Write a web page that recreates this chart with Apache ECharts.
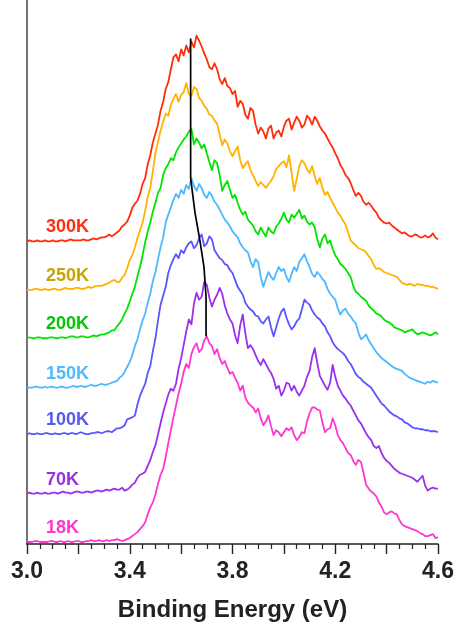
<!DOCTYPE html>
<html>
<head>
<meta charset="utf-8">
<script src="https://cdn.jsdelivr.net/npm/echarts@6/dist/echarts.min.js"></script>
<style>
  html, body { margin: 0; padding: 0; background: #fff; }
  #chart { width: 460px; height: 627px; }
</style>
</head>
<body>
<div id="chart"></div>
<script>
// Photoemission spectra at several temperatures, stacked with vertical offsets
const energy = [
  3.00, 3.01, 3.02, 3.03, 3.04, 3.05, 3.06, 3.07, 3.08, 3.09, 3.10, 3.11, 3.12, 3.13, 3.14, 3.15, 3.16, 3.17, 3.18, 3.19,
  3.20, 3.21, 3.22, 3.23, 3.24, 3.25, 3.26, 3.27, 3.28, 3.29, 3.30, 3.31, 3.32, 3.33, 3.34, 3.35, 3.36, 3.37, 3.38, 3.39,
  3.40, 3.41, 3.42, 3.43, 3.44, 3.45, 3.46, 3.47, 3.48, 3.49, 3.50, 3.51, 3.52, 3.53, 3.54, 3.55, 3.56, 3.57, 3.58, 3.59,
  3.60, 3.61, 3.62, 3.63, 3.64, 3.65, 3.66, 3.67, 3.68, 3.69, 3.70, 3.71, 3.72, 3.73, 3.74, 3.75, 3.76, 3.77, 3.78, 3.79,
  3.80, 3.81, 3.82, 3.83, 3.84, 3.85, 3.86, 3.87, 3.88, 3.89, 3.90, 3.91, 3.92, 3.93, 3.94, 3.95, 3.96, 3.97, 3.98, 3.99,
  4.00, 4.01, 4.02, 4.03, 4.04, 4.05, 4.06, 4.07, 4.08, 4.09, 4.10, 4.11, 4.12, 4.13, 4.14, 4.15, 4.16, 4.17, 4.18, 4.19,
  4.20, 4.21, 4.22, 4.23, 4.24, 4.25, 4.26, 4.27, 4.28, 4.29, 4.30, 4.31, 4.32, 4.33, 4.34, 4.35, 4.36, 4.37, 4.38, 4.39,
  4.40, 4.41, 4.42, 4.43, 4.44, 4.45, 4.46, 4.47, 4.48, 4.49, 4.50, 4.51, 4.52, 4.53, 4.54, 4.55, 4.56, 4.57, 4.58, 4.59,
  4.60
];

const temperatures = ['300K', '250K', '200K', '150K', '100K', '70K', '18K'];
const offsets = [306, 257, 208, 158, 111, 51, 2];

const i300 = [
  0, 1, 0, 0, 1, 0, 0, 1, 0, 0, 1, 0, 0, 1, 1, 0, 1, 2, 1, 1,
  1, 1, 2, 1, 1, 2, 3, 2, 3, 4, 4, 5, 7, 5, 7, 9, 11, 15, 17, 20,
  26, 34, 38, 41, 48, 58, 64, 78, 87, 100, 109, 118, 132, 141, 154, 161, 174, 186, 189, 182,
  194, 188, 198, 191, 202, 196, 208, 203, 197, 190, 184, 176, 174, 180, 174, 164, 159, 165, 157, 155,
  149, 152, 136, 142, 139, 128, 124, 135, 132, 118, 109, 115, 111, 104, 114, 117, 104, 110, 112, 106,
  116, 122, 124, 113, 120, 126, 122, 115, 118, 127, 124, 118, 126, 122, 116, 112, 109, 104, 99, 95,
  89, 84, 77, 73, 67, 64, 59, 52, 46, 49, 46, 40, 37, 39, 36, 32, 29, 24, 21, 19,
  18, 19, 16, 14, 12, 10, 8, 9, 7, 5, 5, 7, 6, 4, 4, 6, 4, 5, 8, 4,
  2
];
const i250 = [
  0, 0, 0, 1, 1, 0, 0, 1, 0, 0, 1, 1, 0, 0, 1, 2, 1, 1, 1, 2,
  2, 1, 1, 2, 3, 2, 3, 4, 4, 4, 5, 6, 7, 9, 10, 8, 8, 12, 15, 22,
  30, 35, 43, 52, 60, 68, 80, 94, 103, 120, 138, 150, 161, 170, 178, 176, 187, 193, 198, 190,
  197, 200, 209, 198, 196, 205, 203, 194, 191, 186, 183, 177, 176, 171, 168, 157, 146, 152, 148, 140,
  135, 140, 145, 131, 123, 127, 130, 121, 116, 110, 105, 109, 106, 103, 107, 110, 115, 122, 125, 128,
  130, 124, 136, 118, 100, 112, 125, 131, 128, 122, 118, 125, 115, 107, 113, 103, 96, 99, 93, 88,
  83, 78, 75, 70, 66, 58, 50, 47, 45, 42, 41, 40, 38, 34, 31, 25, 21, 22, 20, 18,
  17, 16, 15, 14, 13, 10, 7, 6, 5, 6, 5, 4, 6, 5, 5, 4, 4, 3, 3, 2,
  1
];
const i200 = [
  0, 1, 0, 0, 1, 1, 0, 0, 0, 1, 1, 0, 0, 1, 1, 0, 1, 2, 2, 1,
  1, 2, 2, 1, 1, 2, 3, 2, 3, 4, 4, 5, 6, 8, 8, 12, 15, 19, 25, 30,
  37, 45, 52, 63, 72, 84, 97, 108, 117, 128, 137, 147, 152, 165, 172, 176, 182, 180, 188, 193,
  197, 201, 204, 209, 212, 196, 202, 198, 192, 196, 187, 178, 170, 180, 177, 165, 149, 155, 159, 150,
  142, 145, 137, 130, 125, 128, 120, 117, 114, 108, 105, 112, 107, 103, 112, 108, 106, 113, 116, 121,
  127, 120, 117, 125, 122, 126, 130, 121, 124, 118, 115, 117, 112, 100, 92, 101, 105, 96, 99, 90,
  84, 80, 75, 73, 70, 66, 62, 53, 47, 45, 42, 40, 38, 33, 30, 28, 25, 24, 22, 19,
  17, 16, 14, 11, 10, 9, 8, 6, 7, 8, 9, 6, 4, 5, 6, 5, 4, 3, 4, 6,
  4
];
const i150 = [
  0, 0, 0, 1, 1, 0, 0, 1, 0, 1, 1, 0, 0, 1, 1, 0, 0, 1, 2, 1,
  1, 2, 1, 1, 2, 3, 2, 2, 3, 4, 3, 3, 4, 5, 6, 7, 10, 12, 16, 21,
  26, 33, 42, 49, 59, 68, 75, 86, 95, 108, 117, 130, 142, 152, 167, 175, 182, 190, 196, 192,
  200, 196, 205, 201, 212, 204, 199, 206, 202, 195, 192, 198, 194, 188, 185, 180, 175, 170, 167, 163,
  158, 155, 152, 146, 142, 139, 137, 128, 122, 130, 127, 112, 102, 110, 117, 112, 109, 116, 122, 118,
  120, 112, 107, 115, 122, 118, 127, 131, 135, 128, 122, 115, 112, 117, 114, 110, 107, 100, 95, 92,
  89, 80, 74, 78, 80, 75, 72, 68, 65, 56, 49, 51, 54, 48, 44, 40, 36, 33, 30, 28,
  26, 24, 22, 20, 19, 18, 17, 14, 12, 10, 9, 8, 7, 6, 5, 4, 6, 5, 7, 6,
  5
];
const i100 = [
  0, 1, 0, 0, 1, 0, 0, 1, 1, 0, 0, 1, 0, 0, 1, 1, 0, 1, 1, 0,
  1, 2, 1, 0, 0, 1, 1, 2, 2, 1, 2, 3, 3, 2, 4, 6, 6, 7, 9, 15,
  16, 17, 19, 30, 39, 45, 51, 62, 69, 84, 97, 115, 131, 140, 149, 163, 171, 177, 182, 178,
  186, 183, 189, 193, 195, 188, 191, 198, 202, 190, 193, 200, 197, 186, 182, 178, 176, 172, 171, 166,
  163, 156, 149, 145, 141, 133, 129, 126, 124, 120, 119, 114, 112, 116, 119, 108, 99, 108, 117, 124,
  127, 118, 111, 106, 109, 114, 117, 126, 136, 133, 131, 125, 121, 118, 116, 112, 109, 103, 99, 93,
  89, 86, 84, 82, 79, 74, 71, 66, 61, 58, 56, 53, 51, 49, 47, 43, 39, 35, 31, 29,
  26, 23, 21, 19, 18, 16, 15, 12, 11, 9, 7, 6, 6, 5, 5, 4, 4, 3, 3, 3,
  2
];
const i70 = [
  0, 1, 0, 0, 1, 0, 0, 1, 0, 0, 1, 1, 0, 1, 2, 1, 1, 0, 1, 2,
  2, 1, 1, 2, 2, 1, 2, 3, 3, 2, 3, 4, 3, 4, 5, 4, 4, 6, 3, 4,
  6, 9, 11, 16, 19, 20, 22, 28, 34, 42, 49, 60, 71, 82, 91, 100, 106, 104, 111, 126,
  137, 150, 164, 176, 171, 192, 203, 196, 199, 214, 211, 198, 189, 196, 201, 208, 202, 190, 182, 176,
  172, 160, 152, 170, 181, 162, 147, 150, 146, 140, 134, 130, 136, 131, 126, 122, 116, 106, 109, 99,
  104, 112, 111, 104, 109, 103, 99, 104, 109, 118, 124, 138, 147, 132, 119, 114, 109, 105, 112, 130,
  118, 109, 104, 99, 96, 92, 89, 84, 79, 74, 71, 66, 61, 57, 54, 48, 46, 48, 41, 36,
  33, 31, 28, 25, 23, 21, 20, 19, 18, 17, 16, 14, 12, 15, 18, 8, 3, 5, 6, 5,
  5
];
const i18 = [
  0, 0, 0, 1, 1, 0, 0, 0, 0, 1, 1, 0, 0, 1, 0, 0, 1, 0, 0, 1,
  1, 0, 0, 1, 1, 2, 1, 1, 2, 1, 1, 2, 1, 2, 2, 3, 2, 1, 2, 3,
  4, 6, 8, 10, 13, 16, 20, 28, 35, 40, 48, 59, 68, 74, 86, 100, 113, 126, 138, 150,
  160, 172, 180, 176, 190, 197, 201, 192, 195, 204, 208, 201, 198, 190, 195, 186, 180, 183, 176, 170,
  172, 166, 161, 153, 158, 146, 141, 138, 136, 131, 135, 125, 118, 122, 128, 117, 108, 113, 111, 107,
  111, 115, 113, 116, 108, 103, 106, 111, 110, 122, 130, 136, 136, 134, 133, 121, 111, 114, 115, 125,
  118, 108, 103, 100, 95, 90, 88, 82, 78, 83, 81, 70, 58, 54, 51, 49, 46, 40, 36, 30,
  28, 30, 31, 29, 28, 22, 18, 16, 15, 14, 13, 12, 11, 9, 8, 6, 6, 7, 8, 4,
  5
];
const spectra = [i300, i250, i200, i150, i100, i70, i18];

// Guide line following the main peak from 300K down to 18K
const peakLineE = [3.637, 3.637, 3.654, 3.673, 3.689, 3.697, 3.697];
const peakLineI = [511, 370, 335, 307, 280, 250, 210];

const xLabelValues = [3.0, 3.4, 3.8, 4.2, 4.6];

const lineColors = ['#ff2d0a', '#ffb300', '#00e400', '#4cb8ff', '#5a55ff', '#9b30ee', '#ff36d4'];
const labelColors = ['#ff2d10', '#c9a300', '#00c800', '#4cbcff', '#5858f0', '#9a30e4', '#ff34d2'];
const fontFamily = '"Liberation Sans", Arial, Helvetica, sans-serif';

const series = temperatures.map((t, k) => ({
  name: t,
  type: 'line',
  showSymbol: false,
  symbol: 'none',
  silent: true,
  z: 2 + k,
  lineStyle: { color: lineColors[k], width: 1.8, join: 'round' },
  data: energy.map((e, j) => [e, offsets[k] + spectra[k][j]]),
  markPoint: {
    silent: true,
    symbol: 'circle',
    symbolSize: 0,
    data: [{
      coord: [energy[0], offsets[k]],
      label: {
        show: true,
        formatter: t,
        position: [19, -14],
        align: 'left',
        verticalAlign: 'middle',
        color: labelColors[k],
        fontSize: 18,
        fontWeight: 'bold',
        fontFamily: fontFamily
      }
    }]
  }
}));

series.push({
  name: 'peak',
  type: 'line',
  showSymbol: false,
  symbol: 'none',
  silent: true,
  z: 20,
  lineStyle: { color: '#000', width: 1.7 },
  data: peakLineE.map((e, j) => [e, peakLineI[j]])
});

const chart = echarts.init(document.getElementById('chart'), null, { renderer: 'canvas' });
chart.setOption({
  animation: false,
  backgroundColor: '#fff',
  grid: { left: 27, right: 22, top: 0, bottom: 77, containLabel: false },
  xAxis: {
    type: 'value',
    min: 3.0,
    max: 4.6,
    interval: 0.2,
    name: 'Binding Energy (eV)',
    nameLocation: 'middle',
    nameGap: 54,
    nameTextStyle: { fontSize: 24, fontWeight: 'bold', color: '#222', fontFamily: fontFamily },
    axisLine: { show: true, onZero: false, lineStyle: { color: '#222', width: 1.6 } },
    axisTick: { show: true, inside: false, length: 10, lineStyle: { color: '#222', width: 1.4 } },
    minorTick: { show: true, splitNumber: 4, length: 5, lineStyle: { color: '#222', width: 1.2 } },
    splitLine: { show: false },
    minorSplitLine: { show: false },
    axisLabel: {
      margin: 16,
      fontSize: 23,
      fontWeight: 'bold',
      color: '#222',
      fontFamily: fontFamily,
      formatter: v => xLabelValues.some(x => Math.abs(x - v) < 1e-6) ? v.toFixed(1) : ''
    }
  },
  yAxis: {
    type: 'value',
    min: 0,
    max: 550,
    axisLine: { show: true, onZero: false, lineStyle: { color: '#444', width: 1.5 } },
    axisTick: { show: false },
    axisLabel: { show: false },
    splitLine: { show: false }
  },
  series: series
});
</script>
</body>
</html>
